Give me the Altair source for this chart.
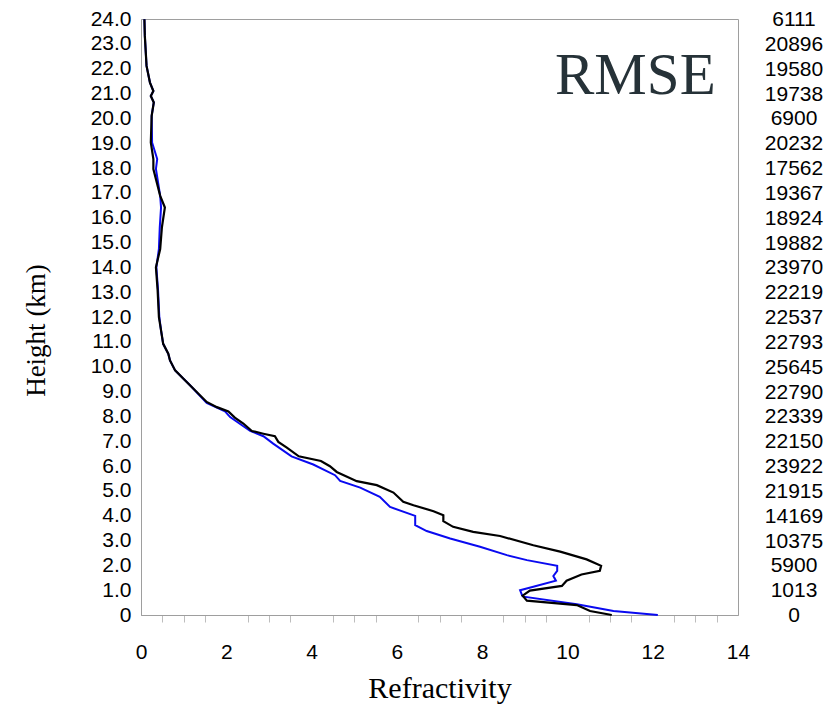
import altair as alt
import pandas as pd

# Black series (height km, refractivity RMSE)
black_height = [0.00, 0.16, 0.40, 0.58, 0.78, 0.98, 1.17, 1.38, 1.63, 1.78, 1.98, 2.24, 2.55, 2.81,
                3.18, 3.35, 3.55, 3.78, 4.02, 4.18, 4.42, 4.56, 4.93, 5.23, 5.39, 5.76, 5.99, 6.20,
                6.39, 6.74, 6.97, 7.20, 7.30, 7.41, 7.71, 7.95, 8.20, 8.37, 8.58, 9.11, 9.52, 9.85,
                10.25, 10.52, 10.92, 11.46, 11.99, 13.07, 14.00, 14.74, 15.61, 16.41, 16.88, 17.42,
                17.96, 18.36, 19.03, 20.10, 20.64, 20.90, 21.10, 21.44, 22.11, 23.32, 23.99]
black_value = [11.04, 10.53, 10.22, 9.05, 8.95, 9.12, 9.87, 9.98, 10.33, 10.76, 10.79, 10.45, 9.83, 9.20,
               8.42, 7.79, 7.32, 7.09, 7.09, 6.86, 6.39, 6.15, 5.92, 5.53, 5.06, 4.59, 4.43, 4.22,
               3.70, 3.42, 3.22, 3.14, 2.87, 2.60, 2.40, 2.20, 2.05, 1.78, 1.54, 1.23, 0.99, 0.80,
               0.68, 0.64, 0.52, 0.47, 0.42, 0.39, 0.35, 0.45, 0.49, 0.56, 0.45, 0.37,
               0.29, 0.29, 0.23, 0.25, 0.30, 0.23, 0.29, 0.21, 0.13, 0.09, 0.08]

# Blue series
blue_height = [0.00, 0.16, 0.43, 0.74, 0.78, 1.00, 1.14, 1.38, 1.57, 1.78, 1.98, 2.21, 2.41, 2.75,
               3.08, 3.38, 3.62, 3.99, 4.35, 4.76, 5.13, 5.40, 5.63, 6.06, 6.39, 6.90, 7.20, 7.41,
               7.97, 8.20, 8.54, 9.25, 9.85, 10.25, 10.52, 10.92, 11.46, 11.99, 13.07, 14.00, 14.74,
               15.61, 16.41, 16.88, 17.42, 17.96, 18.36, 19.03, 20.10, 20.64, 20.90, 21.10, 21.44,
               22.11, 23.32, 23.99]
blue_value = [12.12, 11.08, 10.22, 8.97, 8.94, 8.89, 9.20, 9.73, 9.67, 9.76, 9.76, 9.05, 8.58, 7.95,
              7.25, 6.70, 6.43, 6.43, 5.84, 5.60, 5.14, 4.67, 4.55, 4.04, 3.53, 3.10, 2.87, 2.56,
              2.09, 1.97, 1.54, 1.15, 0.80, 0.68, 0.64, 0.52, 0.47, 0.43, 0.40, 0.36, 0.42,
              0.44, 0.47, 0.45, 0.40, 0.35, 0.38, 0.26, 0.25, 0.30, 0.23, 0.29, 0.21,
              0.13, 0.09, 0.08]

# Number of observations per level (right-hand labels)
level_height = list(range(0, 25))
level_count = [0, 1013, 5900, 10375, 14169, 21915, 23922, 22150, 22339, 22790, 25645, 22793, 22537,
               22219, 23970, 19882, 18924, 19367, 17562, 20232, 6900, 19738, 19580, 20896, 6111]

x_ticks = [i * 0.5 for i in range(0, 29)]
y_ticks = list(range(0, 25))

black_df = pd.DataFrame({"height": black_height, "value": black_value})
blue_df = pd.DataFrame({"height": blue_height, "value": blue_value})
count_df = pd.DataFrame({"height": level_height, "count": [str(c) for c in level_count]})
title_df = pd.DataFrame({"label": ["RMSE"]})

GRAY = "#9e9e9e"

x_scale = alt.Scale(domain=[0, 14], nice=False, zero=False)
y_scale = alt.Scale(domain=[0, 24], nice=False, zero=False)

x_axis = alt.Axis(
    title="Refractivity",
    values=x_ticks,
    labelExpr="datum.value % 2 === 0 ? format(datum.value, 'd') : ''",
    tickOpacity={"condition": {"test": "datum.value % 2 === 0", "value": 0}, "value": 1},
    tickColor="#bdbdbd",
    tickSize=7,
    grid=False,
    domainColor=GRAY,
    labelFont="Liberation Sans",
    labelFontSize=21,
    labelColor="black",
    labelPadding=19,
    labelOverlap=False,
    labelFlush=False,
    titleFont="Liberation Serif",
    titleFontSize=30,
    titleFontWeight="normal",
    titleColor="black",
    titlePadding=11,
)

y_axis = alt.Axis(
    title="Height (km)",
    values=y_ticks,
    labelExpr="datum.value === 0 ? '0\u00a0\u00a0' : format(datum.value, '.1f')",
    ticks=False,
    grid=False,
    domainColor=GRAY,
    labelFont="Liberation Sans",
    labelFontSize=21,
    labelColor="black",
    labelPadding=10,
    labelOverlap=False,
    labelFlush=False,
    labelBound=False,
    labelBaseline="middle",
    titleFont="Liberation Serif",
    titleFontSize=27,
    titleFontWeight="normal",
    titleColor="black",
    titlePadding=40,
    titleY=311,
)

blue_line = alt.Chart(blue_df).mark_line(color="#0a0af0", strokeWidth=2).encode(
    x=alt.X("value:Q", scale=x_scale, axis=x_axis),
    y=alt.Y("height:Q", scale=y_scale, axis=y_axis),
    order="height:Q",
)

black_line = alt.Chart(black_df).mark_line(color="black", strokeWidth=2.2).encode(
    x=alt.X("value:Q", scale=x_scale, axis=x_axis),
    y=alt.Y("height:Q", scale=y_scale, axis=y_axis),
    order="height:Q",
)

counts = alt.Chart(count_df).mark_text(
    font="Liberation Sans", fontSize=21, color="black", align="center", baseline="middle",
    clip=False, dy=1
).encode(
    x=alt.value(653),
    y=alt.Y("height:Q", scale=y_scale, axis=y_axis),
    text="count:N",
)

rmse = alt.Chart(title_df).mark_text(
    font="Liberation Serif", fontSize=59, color="#263238", align="left", baseline="alphabetic"
).encode(
    x=alt.value(414),
    y=alt.value(75),
    text="label:N",
)

chart = alt.layer(blue_line, black_line, counts, rmse).properties(
    width=597,
    height=596,
    autosize=alt.AutoSizeParams(type="none"),
    padding={"left": 133, "top": 11, "right": 90, "bottom": 90},
).configure_view(stroke=GRAY, strokeWidth=1)

chart.save("out.html", embed_options={"renderer": "svg", "actions": False})
